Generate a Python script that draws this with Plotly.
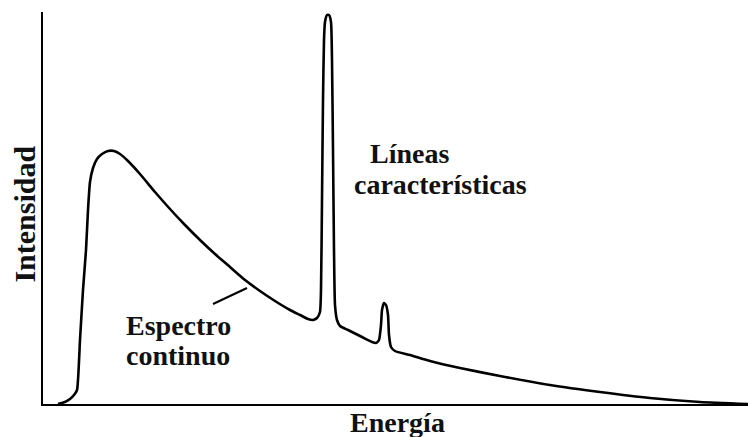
import plotly.graph_objects as go

# Energy (arbitrary units) and intensity (arbitrary units)
energia = [15, 22, 27, 31, 34, 37, 40, 43, 45, 47, 50, 54, 59, 65, 71, 77, 85, 97, 112, 127,
           142, 157, 172, 187, 202, 217, 232, 247, 257, 265, 270, 274, 277, 278, 279, 280, 281,
           282, 284, 286, 288, 289, 290, 291, 292, 294, 297, 305, 319, 329, 333, 336, 338, 339,
           341, 343, 345, 346, 348, 352, 367, 387, 417, 457, 507, 557, 607, 657, 705]
intensidad = [0, 2, 5, 9, 14, 64, 114, 154, 194, 222, 236, 245, 250, 253, 253, 250, 243, 230, 212, 195,
              179, 164, 150, 137, 124, 113, 103, 94, 89, 85, 84, 86, 92, 114, 204, 304, 364,
              382, 389, 389, 382, 344, 254, 154, 99, 84, 78, 74, 67, 62, 61, 64, 79, 94,
              101, 99, 89, 69, 57, 53, 49, 43, 36, 28, 19, 12, 6, 2, 0]

x_label = "Energía"
y_label = "Intensidad"
label_continuo = ["Espectro", "continuo"]
label_lineas = ["Líneas", "características"]

FONT = "Liberation Serif, Times New Roman, serif"
TXT = "#111111"

fig = go.Figure()
fig.add_trace(go.Scatter(x=energia, y=intensidad, mode="lines",
                         line=dict(color="black", width=2.6, shape="spline", smoothing=0.5),
                         hoverinfo="skip", showlegend=False))

# leader line from label to continuum
fig.add_shape(type="line", xref="x", yref="y", x0=170, y0=100, x1=204, y1=116,
              line=dict(color="black", width=2))

def ann(text, x, y, ref="data", size=28, **kw):
    xr, yr = ("x", "y") if ref == "data" else ("paper", "paper")
    fig.add_annotation(text=f"<b>{text}</b>", x=x, y=y, xref=xr, yref=yr,
                       showarrow=False, xanchor="center", yanchor="middle",
                       font=dict(family=FONT, size=size, color=TXT), **kw)

ann(label_continuo[0], 135, 79)
ann(label_continuo[1], 135, 49)
ann(label_lineas[0], 366, 251)
ann(label_lineas[1], 397, 220)
ann(x_label, 0.5035, -0.047, ref="paper")
ann(y_label, -0.026, 0.485, ref="paper", size=30, textangle=-90)

fig.update_layout(
    width=748, height=437,
    margin=dict(l=43, r=0, t=12, b=33),
    paper_bgcolor="white", plot_bgcolor="white",
    xaxis=dict(range=[0, 705], showline=True, linecolor="black", linewidth=2,
               showgrid=False, zeroline=False, showticklabels=False, ticks=""),
    yaxis=dict(range=[0, 392], showline=True, linecolor="black", linewidth=2,
               showgrid=False, zeroline=False, showticklabels=False, ticks=""),
)

fig.write_html("out.html")
